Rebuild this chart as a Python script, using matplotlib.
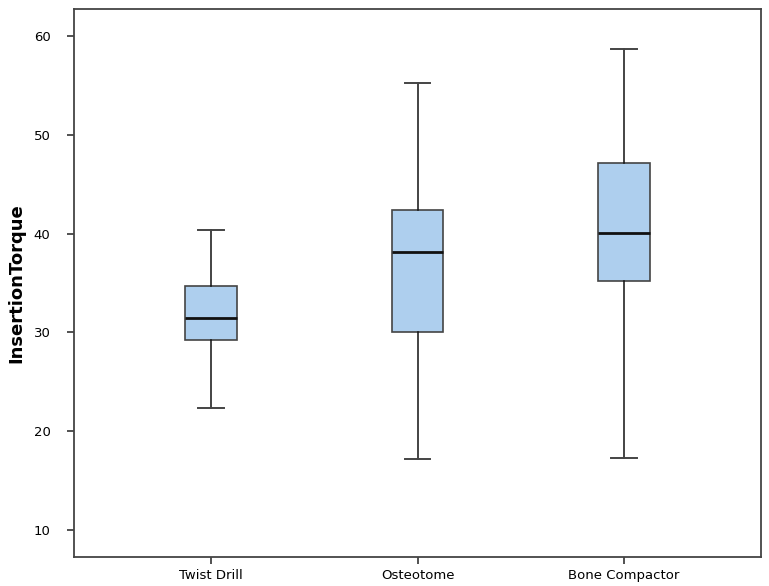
import matplotlib
matplotlib.use("Agg")
import matplotlib.pyplot as plt

categories = ["Twist Drill", "Osteotome", "Bone Compactor"]
whisker_low = [22.3, 17.2, 17.3]
q1 = [29.2, 30.0, 35.2]
median = [31.5, 38.1, 40.1]
q3 = [34.7, 42.4, 47.1]
whisker_high = [40.4, 55.2, 58.7]

fig = plt.figure(figsize=(7.69, 5.86), dpi=100)
ax = fig.add_axes([74/769, 1 - 557/586, (761-74)/769, (557-9)/586])

stats = []
for i, c in enumerate(categories):
    stats.append(dict(label=c, whislo=whisker_low[i], q1=q1[i], med=median[i],
                      q3=q3[i], whishi=whisker_high[i], fliers=[]))

ax.bxp(stats, positions=[1, 2, 3], widths=0.25, patch_artist=True,
       showfliers=False,
       boxprops=dict(facecolor="#AECFEE", edgecolor="#444444", linewidth=1.2),
       medianprops=dict(color="#111111", linewidth=2),
       whiskerprops=dict(color="#111111", linewidth=1.1),
       capprops=dict(color="#444444", linewidth=1.4),
       capwidths=0.125)

ax.set_xlim(0.337, 3.663)
ax.set_ylim(7.27, 62.73)
ax.set_yticks([10, 20, 30, 40, 50, 60])
ax.set_ylabel("InsertionTorque", fontsize=13, fontweight="bold", labelpad=6)
for s in ax.spines.values():
    s.set_color("#444444")
    s.set_linewidth(1.3)
ax.tick_params(axis="both", labelsize=9.5, color="#333333", length=5, width=1.2)
ax.tick_params(axis="y", pad=12)

fig.savefig("out.png", dpi=100)
